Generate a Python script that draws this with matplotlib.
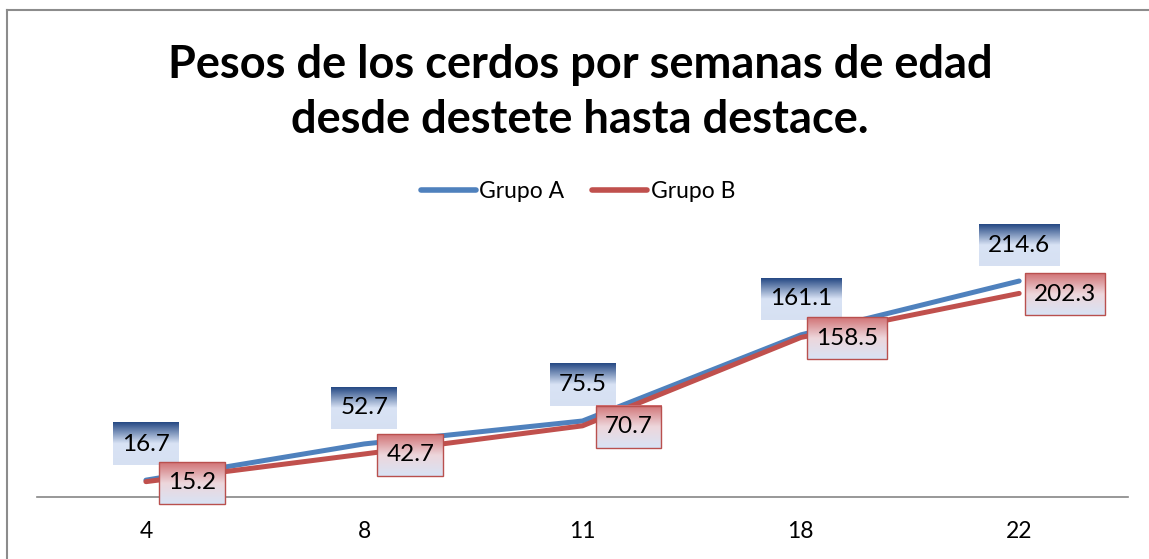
import numpy as np
import matplotlib
matplotlib.use("Agg")
import matplotlib.pyplot as plt
from matplotlib.lines import Line2D

plt.rcParams['font.family'] = ['Lato', 'DejaVu Sans']

semanas = ['4', '8', '11', '18', '22']
grupo_a = [16.7, 52.7, 75.5, 161.1, 214.6]
grupo_b = [15.2, 42.7, 70.7, 158.5, 202.3]

AZUL = '#4F81BD'
ROJO = '#C0504D'

fig = plt.figure(figsize=(11.49, 5.59), dpi=100)
ax = fig.add_axes([0.032, 0.111, 0.95, 0.45])

x = np.arange(len(semanas))
ax.plot(x, grupo_a, color=AZUL, lw=3.6, solid_capstyle='round', solid_joinstyle='round', zorder=2, label='Grupo A')
ax.plot(x, grupo_b, color=ROJO, lw=3.6, solid_capstyle='round', solid_joinstyle='round', zorder=3, label='Grupo B')

ax.set_xlim(-0.5, len(semanas) - 0.5)
ax.set_ylim(0, 250)
ax.set_xticks(x)
ax.set_xticklabels(semanas, fontsize=16.5)
ax.tick_params(axis='x', length=0, pad=17)
ax.set_yticks([])
for s in ['top', 'right', 'left']:
    ax.spines[s].set_visible(False)
ax.spines['bottom'].set_color('#868686')
ax.spines['bottom'].set_linewidth(1.2)

# etiquetas de datos
labels = []
for xi, v in zip(x, grupo_a):
    t = ax.annotate(f"{v:.1f}", (xi, v), xytext=(0, 36), textcoords='offset pixels',
                    ha='center', va='center', fontsize=17.5, zorder=6, annotation_clip=False)
    labels.append((t, 'a'))
for xi, v in zip(x, grupo_b):
    t = ax.annotate(f"{v:.1f}", (xi, v), xytext=(46, -1), textcoords='offset pixels',
                    ha='center', va='center', fontsize=17.5, zorder=6, annotation_clip=False)
    labels.append((t, 'b'))

def gradiente(stops, n=64):
    pos = np.array([p for p, _ in stops])
    cols = np.array([c for _, c in stops])
    yy = np.linspace(0, 1, n)
    arr = np.stack([np.interp(yy, pos, cols[:, k]) for k in range(3)], axis=1)
    return arr[:, None, :]

grad_a = gradiente([(0.0, (0.15, 0.29, 0.52)), (0.5, (0.85, 0.89, 0.96)), (1.0, (0.84, 0.88, 0.95))])
grad_b = gradiente([(0.0, (0.82, 0.45, 0.46)), (0.5, (0.93, 0.84, 0.86)), (1.0, (0.85, 0.89, 0.96))])

fig.canvas.draw()
inv = ax.transData.inverted()
for t, grupo in labels:
    bb = t.get_window_extent()
    cx = (bb.x0 + bb.x1) / 2
    cy = (bb.y0 + bb.y1) / 2
    w = bb.width + 18
    h = 42
    (x0, y0) = inv.transform((cx - w / 2, cy - h / 2))
    (x1, y1) = inv.transform((cx + w / 2, cy + h / 2))
    img = grad_a if grupo == 'a' else grad_b
    ax.imshow(img, extent=(x0, x1, y0, y1), aspect='auto', zorder=4, clip_on=False, interpolation='bilinear')
    if grupo == 'b':
        ax.add_patch(plt.Rectangle((x0, y0), x1 - x0, y1 - y0, fill=False, ec='#B9504E',
                                   lw=1.0, zorder=5, clip_on=False))

ax.set_xlim(-0.5, len(semanas) - 0.5)
ax.set_ylim(0, 250)

fig.text(0.505, 0.834, 'Pesos de los cerdos por semanas de edad\ndesde destete hasta destace.',
         ha='center', va='center', fontsize=32.5, fontweight='bold', linespacing=1.38)

handles = [Line2D([0], [0], color=AZUL, lw=4, solid_capstyle='round'),
           Line2D([0], [0], color=ROJO, lw=4, solid_capstyle='round')]
fig.legend(handles, ['Grupo A', 'Grupo B'], loc='center', bbox_to_anchor=(0.503, 0.657),
           ncol=2, frameon=False, fontsize=16.5, handlelength=2.4, handletextpad=0.15, columnspacing=1.2)

# marco del gráfico
fig.add_artist(Line2D([7 / 1149, 7 / 1149], [0, 1 - 10 / 559], color='#8c8c8c', lw=1.5, transform=fig.transFigure))
fig.add_artist(Line2D([7 / 1149, 1], [1 - 10 / 559, 1 - 10 / 559], color='#8c8c8c', lw=1.5, transform=fig.transFigure))

fig.savefig('out.png', dpi=100)
